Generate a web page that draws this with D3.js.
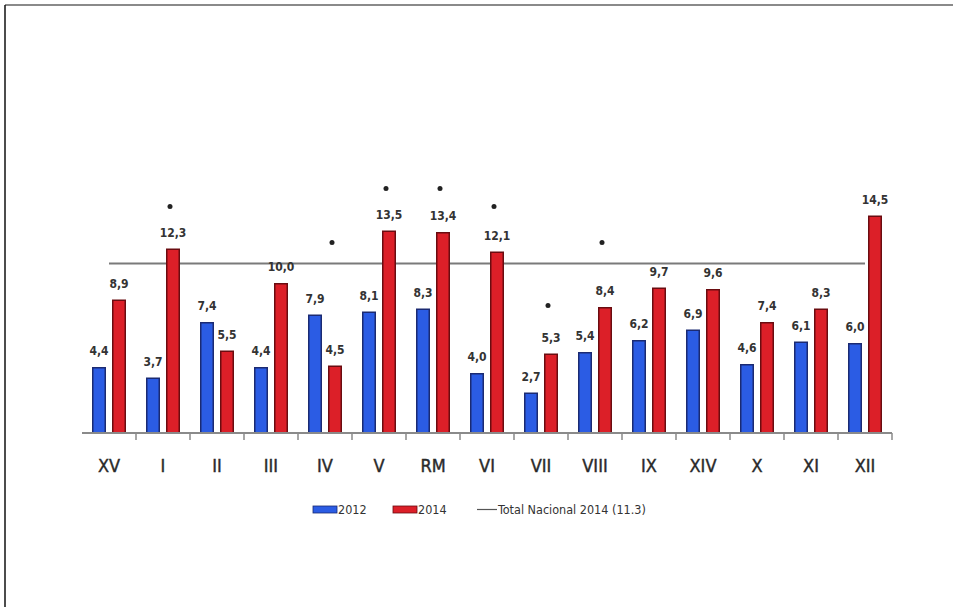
<!DOCTYPE html>
<html>
<head>
<meta charset="utf-8">
<script src="https://cdn.jsdelivr.net/npm/d3@7"></script>
<style>
  html, body { margin: 0; padding: 0; background: #fff; }
  svg { display: block; }
  .lbl { font-family: "DejaVu Sans Condensed", "Liberation Sans Narrow", "Liberation Sans", sans-serif; }
</style>
</head>
<body>
<svg id="chart" width="953" height="607"></svg>
<script>
// Regions, in the order shown on the axis
const regions = ["XV", "I", "II", "III", "IV", "V", "RM", "VI", "VII", "VIII", "IX", "XIV", "X", "XI", "XII"];
// Rates per region (%)
const values2012 = [4.4, 3.7, 7.4, 4.4, 7.9, 8.1, 8.3, 4.0, 2.7, 5.4, 6.2, 6.9, 4.6, 6.1, 6.0];
const values2014 = [8.9, 12.3, 5.5, 10.0, 4.5, 13.5, 13.4, 12.1, 5.3, 8.4, 9.7, 9.6, 7.4, 8.3, 14.5];
// Significance markers: region and the level (in % units) where the dot sits
const markerRegions = ["I", "IV", "V", "RM", "VI", "VII", "VIII"];
const markerLevels = [15.1, 12.7, 16.3, 16.3, 15.1, 8.5, 12.7];
// National total for 2014
const nationalTotal = 11.3;
const seriesNames = ["2012", "2014"];
const legendLineText = "Total Nacional 2014 (11.3)";

const colors = { "2012": "#2b5ce4", "2014": "#dc1f28" };
const edges = { "2012": "#1b2a72", "2014": "#6a0c10" };

const svg = d3.select("#chart");
const fmt = v => d3.format(".1f")(v).replace(".", ",");

const x0 = d3.scaleBand().domain(regions).range([82, 892]).paddingInner(0).paddingOuter(0);
const x1 = d3.scaleBand().domain(seriesNames).range([0, x0.bandwidth()]).paddingInner(0.3).paddingOuter(0.5);
const y = d3.scaleLinear().domain([0, 16]).range([433, 193]);

// Frame lines
svg.append("line").attr("x1", 5).attr("x2", 953).attr("y1", 5).attr("y2", 5)
  .attr("stroke", "#8a8a8a").attr("stroke-width", 2);
svg.append("line").attr("x1", 5).attr("x2", 5).attr("y1", 5).attr("y2", 607)
  .attr("stroke", "#111").attr("stroke-width", 1.5);

// National total reference line
svg.append("line")
  .attr("x1", x0(regions[0]) + x0.bandwidth() / 2)
  .attr("x2", x0(regions[regions.length - 1]) + x0.bandwidth() / 2)
  .attr("y1", y(nationalTotal)).attr("y2", y(nationalTotal))
  .attr("stroke", "#7a7a7a").attr("stroke-width", 2);

// Bars
const rows = regions.map((r, i) => ({ region: r, vals: [
  { key: "2012", v: values2012[i] },
  { key: "2014", v: values2014[i] }
]}));

const groups = svg.append("g").selectAll("g").data(rows).join("g")
  .attr("transform", d => `translate(${x0(d.region)},0)`);

groups.selectAll("rect").data(d => d.vals).join("rect")
  .attr("x", d => x1(d.key) + 0.75)
  .attr("width", x1.bandwidth() - 1.5)
  .attr("y", d => y(d.v) + 0.75)
  .attr("height", d => y(0) - y(d.v) - 0.75)
  .attr("fill", d => colors[d.key])
  .attr("stroke", d => edges[d.key])
  .attr("stroke-width", 1.5);

groups.selectAll("text").data(d => d.vals).join("text")
  .attr("class", "lbl")
  .attr("x", d => x1(d.key) + x1.bandwidth() / 2)
  .attr("y", d => y(d.v) - 12)
  .attr("text-anchor", "middle")
  .attr("font-size", 12)
  .attr("font-weight", "bold")
  .attr("fill", "#333")
  .text(d => fmt(d.v));

// Significance dots
svg.append("g").selectAll("circle").data(markerRegions.map((r, i) => ({ r, lvl: markerLevels[i] })))
  .join("circle")
  .attr("cx", d => x0(d.r) + x1("2014") + x1.bandwidth() / 2 - 3)
  .attr("cy", d => y(d.lvl))
  .attr("r", 2.5)
  .attr("fill", "#222");

// X axis
const axis = svg.append("g").attr("transform", `translate(0,${y(0)})`);
axis.append("line").attr("x1", 82).attr("x2", 892).attr("y1", 0).attr("y2", 0)
  .attr("stroke", "#8a8a8a").attr("stroke-width", 2);
axis.selectAll("line.tick").data(regions).join("line")
  .attr("class", "tick")
  .attr("x1", d => x0(d) + x0.bandwidth()).attr("x2", d => x0(d) + x0.bandwidth())
  .attr("y1", 0).attr("y2", 7)
  .attr("stroke", "#8a8a8a").attr("stroke-width", 1.5);
axis.selectAll("text").data(regions).join("text")
  .attr("class", "lbl")
  .attr("x", d => x0(d) + x0.bandwidth() / 2)
  .attr("y", 39)
  .attr("text-anchor", "middle")
  .attr("font-size", 18)
  .attr("fill", "#2a2a2a")
  .attr("stroke", "#2a2a2a")
  .attr("stroke-width", 0.4)
  .text(d => d);

// Legend
const legend = svg.append("g").attr("class", "lbl").attr("font-size", 12.5).attr("fill", "#333");
const legendX = [313, 393];
seriesNames.forEach((s, i) => {
  legend.append("rect").attr("x", legendX[i]).attr("y", 506).attr("width", 24).attr("height", 7)
    .attr("fill", colors[s]).attr("stroke", edges[s]).attr("stroke-width", 0.8);
  legend.append("text").attr("x", legendX[i] + 25).attr("y", 514).text(s);
});
legend.append("line").attr("x1", 477).attr("x2", 497).attr("y1", 509.5).attr("y2", 509.5)
  .attr("stroke", "#555").attr("stroke-width", 1.2);
legend.append("text").attr("x", 498).attr("y", 514).text(legendLineText);
</script>
</body>
</html>
